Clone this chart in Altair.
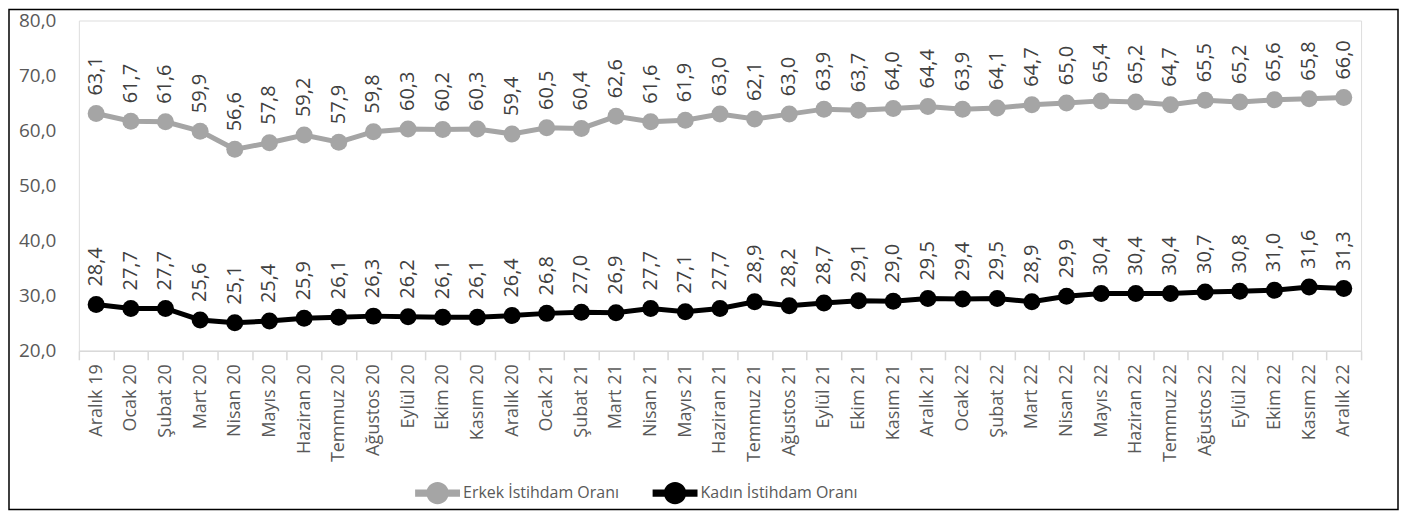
import altair as alt
import pandas as pd

months = ["Aralık 19", "Ocak 20", "Şubat 20", "Mart 20", "Nisan 20", "Mayıs 20",
          "Haziran 20", "Temmuz 20", "Ağustos 20", "Eylül 20", "Ekim 20", "Kasım 20",
          "Aralık 20", "Ocak 21", "Şubat 21", "Mart 21", "Nisan 21", "Mayıs 21",
          "Haziran 21", "Temmuz 21", "Ağustos 21", "Eylül 21", "Ekim 21", "Kasım 21",
          "Aralık 21", "Ocak 22", "Şubat 22", "Mart 22", "Nisan 22", "Mayıs 22",
          "Haziran 22", "Temmuz 22", "Ağustos 22", "Eylül 22", "Ekim 22", "Kasım 22",
          "Aralık 22"]
erkek = [63.1, 61.7, 61.6, 59.9, 56.6, 57.8, 59.2, 57.9, 59.8, 60.3, 60.2, 60.3,
         59.4, 60.5, 60.4, 62.6, 61.6, 61.9, 63.0, 62.1, 63.0, 63.9, 63.7, 64.0,
         64.4, 63.9, 64.1, 64.7, 65.0, 65.4, 65.2, 64.7, 65.5, 65.2, 65.6, 65.8, 66.0]
kadin = [28.4, 27.7, 27.7, 25.6, 25.1, 25.4, 25.9, 26.1, 26.3, 26.2, 26.1, 26.1,
         26.4, 26.8, 27.0, 26.9, 27.7, 27.1, 27.7, 28.9, 28.2, 28.7, 29.1, 29.0,
         29.5, 29.4, 29.5, 28.9, 29.9, 30.4, 30.4, 30.4, 30.7, 30.8, 31.0, 31.6, 31.3]
series_names = ["Erkek İstihdam Oranı", "Kadın İstihdam Oranı"]
series_colors = ["#A5A5A5", "#000000"]
y_ticks = [20, 30, 40, 50, 60, 70, 80]

rows = []
for name, vals in zip(series_names, [erkek, kadin]):
    for m, v in zip(months, vals):
        rows.append({"ay": m, "seri": name, "deger": v,
                     "etiket": f"{v:.1f}".replace(".", ",")})
df = pd.DataFrame(rows)

FONT = "Open Sans"
W, H = 1285, 331

x_enc = alt.X("ay:N", sort=months, title=None,
              scale=alt.Scale(paddingInner=0, paddingOuter=0),
              axis=alt.Axis(labelAngle=-90, labelFontSize=18, labelColor="#595959",
                            labelFont=FONT, tickBand="extent", tickColor="#D9D9D9",
                            tickSize=9, tickWidth=1.5, domainColor="#D9D9D9",
                            domainWidth=1.5, labelPadding=4, grid=False))
y_enc = alt.Y("deger:Q", title=None,
              scale=alt.Scale(domain=[20, 80], nice=False, zero=False),
              axis=alt.Axis(values=y_ticks, labelFontSize=19, labelColor="#595959",
                            labelFont=FONT, ticks=False, domain=False, grid=False,
                            labelPadding=23,
                            labelExpr="replace(format(datum.value, '.1f'), '.', ',')"))
color_scale = alt.Scale(domain=series_names, range=series_colors)

base = alt.Chart(df)

lines = base.mark_line(strokeWidth=5).encode(
    x=x_enc, y=y_enc,
    color=alt.Color("seri:N", scale=color_scale, legend=None),
    detail="seri:N")

legend_symbol = ("M-1,-0.16L1,-0.16L1,0.16L-1,0.16Z"
                 "M-0.5,0A0.5,0.5 0 1,1 0.5,0A0.5,0.5 0 1,1 -0.5,0Z")

points = base.mark_circle(size=290, opacity=1).encode(
    x=x_enc, y=y_enc,
    color=alt.Color("seri:N", scale=color_scale,
                    legend=alt.Legend(title=None, orient="none", direction="horizontal",
                                      legendX=337, legendY=451,
                                      symbolType=legend_symbol, symbolSize=2025,
                                      symbolStrokeWidth=0, symbolOpacity=1,
                                      labelFontSize=16, labelFont=FONT,
                                      labelColor="#595959", labelOffset=3,
                                      columnPadding=33)))

labels = base.mark_text(angle=270, align="left", baseline="middle", dx=18,
                        fontSize=20, font=FONT, color="#404040").encode(
    x=x_enc, y=y_enc, text="etiket:N")

frame = alt.Chart(pd.DataFrame({"k": [0]})).mark_rect(
    fill="transparent", stroke="#000000", strokeWidth=1.5).encode(
    x=alt.value(-70), x2=alt.value(W + 37), y=alt.value(-11), y2=alt.value(H + 159))

chart = alt.layer(frame, lines, points, labels).resolve_legend(
    color="independent"
).properties(
    width=W, height=H, padding=0
).configure_view(stroke=None).configure(background="white")

chart.save("out.html", embed_options={"renderer": "svg", "actions": False})
